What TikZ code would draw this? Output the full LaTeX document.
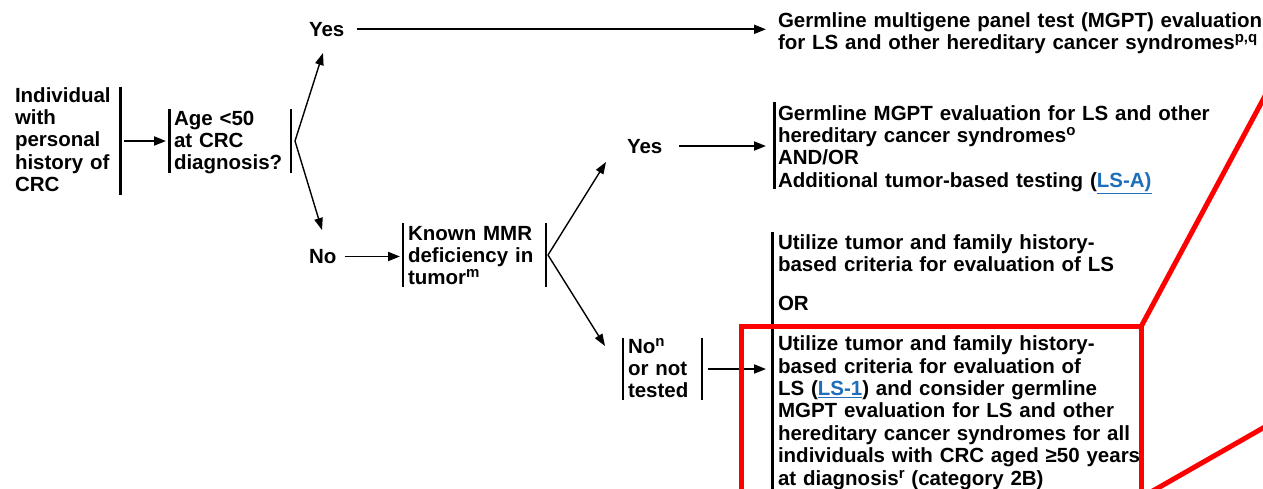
\documentclass[tikz,border=0pt]{standalone}
\usepackage{fontspec}
\setmainfont{Liberation Sans}
\usetikzlibrary{arrows.meta}
\definecolor{linkblue}{RGB}{30,110,185}
\definecolor{calloutred}{RGB}{255,0,0}
\newcommand\mainfs{\fontsize{20.5}{22.4}\selectfont\bfseries}
\newcommand\sps[1]{\raisebox{7pt}{\fontsize{15}{15}\selectfont\bfseries #1}}
\newcommand\lnk[1]{\textcolor{linkblue}{\underline{#1}}}
\begin{document}
\begin{tikzpicture}[x=1pt,y=-1pt,
  txt/.style={inner sep=0pt, outer sep=0pt, anchor=base west, align=left, font=\mainfs},
  bar/.style={line width=2.4pt},
  arr/.style={line width=1.9pt, -{Triangle[length=12pt,width=9pt]}},
  branch/.style={line width=1.4pt, -{Triangle[length=12pt,width=8.5pt]}},
  callout/.style={draw=calloutred, line width=5pt}]
\useasboundingbox (0,0) rectangle (1263,488);

% text blocks
\node[txt, text width=110pt] (indiv) at (15,102) {Individual\\with\\personal\\history of\\CRC};
\node[txt, text width=120pt] (age) at (174,125) {Age <50\\at CRC\\diagnosis?};
\node[txt] (yes1) at (309,36) {Yes};
\node[txt, text width=520pt] (mgpt1) at (778,27) {Germline multigene panel test (MGPT) evaluation\\for LS and other hereditary cancer syndromes\sps{p,q}};
\node[txt] (no1) at (309,263) {No};
\node[txt, text width=150pt] (mmr) at (408,240) {Known MMR\\deficiency in\\tumor\sps{m}};
\node[txt] (yes2) at (627,153) {Yes};
\node[txt, text width=480pt] (mgpt2) at (778,120) {Germline MGPT evaluation for LS and other\\hereditary cancer syndromes\sps{o}\\AND/OR\\Additional tumor-based testing (\lnk{LS-A)}};
\node[txt, text width=100pt] (non) at (628,353) {No\sps{n}\\or not\\tested};
\node[txt, text width=420pt] (util1) at (778,249.5) {Utilize tumor and family history-\\based criteria for evaluation of LS};
\node[txt] (or) at (778,310) {OR};
\node[txt, text width=420pt] (util2) at (778,350.7) {Utilize tumor and family history-\\based criteria for evaluation of\\LS (\lnk{LS-1}) and consider germline\\MGPT evaluation for LS and other\\hereditary cancer syndromes for all\\individuals with CRC aged ≥50 years\\at diagnosis\sps{r} (category 2B)};

% bars
\coordinate (barA1) at (120.5,87);  \coordinate (barA2) at (120.5,195);
\coordinate (barB1) at (169.5,109); \coordinate (barB2) at (169.5,173);
\coordinate (barB3) at (291,109);   \coordinate (barB4) at (291,173);
\coordinate (barD1) at (403,223);   \coordinate (barD2) at (403,287);
\coordinate (barD3) at (546,223);   \coordinate (barD4) at (546,287);
\coordinate (barE1) at (774.5,102); \coordinate (barE2) at (774.5,189);
\coordinate (barF1) at (623,338);   \coordinate (barF2) at (623,400);
\coordinate (barF3) at (702,338);   \coordinate (barF4) at (702,400);
\coordinate (barG1) at (772.5,232); \coordinate (barG2) at (772.5,495);
\foreach \a/\b in {barA1/barA2,barB1/barB2,barB3/barB4,barD1/barD2,barD3/barD4,barE1/barE2,barF1/barF2,barF3/barF4,barG1/barG2}
  \draw[bar] (\a) -- (\b);

% connector end points
\coordinate (indivOut) at (124,141);  \coordinate (ageIn) at (166,141);
\coordinate (ageFork) at (295,141);
\coordinate (yes1In) at (323,53);     \coordinate (no1In) at (322,230);
\coordinate (yes1Out) at (357,29.3);  \coordinate (mgpt1In) at (766,29.3);
\coordinate (no1Out) at (345,256.5);  \coordinate (mmrIn) at (400,256.5);
\coordinate (mmrFork) at (548,255);
\coordinate (yes2In) at (606,162);    \coordinate (nonIn) at (605,346);
\coordinate (yes2Out) at (679,146);   \coordinate (mgpt2In) at (766,146);
\coordinate (nonOut) at (708,369);    \coordinate (util2In) at (766,369);

\draw[arr] (indivOut) -- (ageIn);
\draw[branch] (ageFork) -- (yes1In);
\draw[branch] (ageFork) -- (no1In);
\draw[arr] (yes1Out) -- (mgpt1In);
\draw[arr] (no1Out) -- (mmrIn);
\draw[branch] (mmrFork) -- (yes2In);
\draw[branch] (mmrFork) -- (nonIn);
\draw[arr] (yes2Out) -- (mgpt2In);
\draw[arr] (nonOut) -- (util2In);

% red callout
\coordinate (rboxTL) at (741.5,326.7);
\coordinate (rboxTR) at (1141,326.7);
\coordinate (rboxBR) at (1141,500);
\coordinate (rboxBL) at (741.5,500);
\coordinate (rtop) at (1270,86.7);
\coordinate (rlow1) at (1150,492.5);
\coordinate (rlow2) at (1270,424);
\draw[callout] (rboxBL) -- (rboxTL) -- (rboxTR) -- (rboxBR);
\draw[callout] (rboxTR) -- (rtop);
\draw[callout] (rlow1) -- (rlow2);
\end{tikzpicture}
\end{document}
